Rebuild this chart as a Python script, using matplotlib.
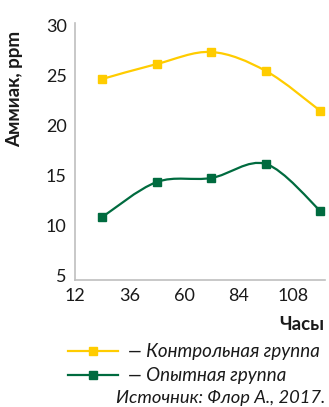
import matplotlib
matplotlib.use("Agg")
import matplotlib.pyplot as plt
from matplotlib.path import Path
from matplotlib.patches import PathPatch
from matplotlib.lines import Line2D

hours = [24, 48, 72, 96, 120]
control = [24.6, 26.1, 27.3, 25.4, 21.4]
experimental = [10.8, 14.3, 14.7, 16.1, 11.4]
xticks = [12, 36, 60, 84, 108]
yticks = [5, 10, 15, 20, 25, 30]
series_names = ["— Контрольная группа", "— Опытная группа"]
colors = ["#FFCC00", "#006B3F"]

FONT = "Lato"
plt.rcParams['font.family'] = [FONT, 'DejaVu Sans']

W, H = 329, 407
fig = plt.figure(figsize=(W / 100, H / 100), dpi=100)

def fx(px):
    return px / W

def fy(py):
    return 1 - py / H

ax_l, ax_r, ax_t, ax_b = 75, 325, 23, 280
ax = fig.add_axes([fx(ax_l), fy(ax_b), fx(ax_r - ax_l), (ax_b - ax_t) / H])
ax.set_xlim(12, 122)
ax.set_ylim(4.5, 30.2)


def smooth_path(xs, ys):
    pts = list(zip(xs, ys))
    n = len(pts)
    verts = [pts[0]]
    codes = [Path.MOVETO]
    for i in range(n - 1):
        p0 = pts[i - 1] if i > 0 else pts[i]
        p1 = pts[i]
        p2 = pts[i + 1]
        p3 = pts[i + 2] if i + 2 < n else pts[i + 1]
        c1 = (p1[0] + (p2[0] - p0[0]) / 6, p1[1] + (p2[1] - p0[1]) / 6)
        c2 = (p2[0] - (p3[0] - p1[0]) / 6, p2[1] - (p3[1] - p1[1]) / 6)
        verts += [c1, c2, p2]
        codes += [Path.CURVE4] * 3
    return Path(verts, codes)

for vals, col in zip([control, experimental], colors):
    ax.add_patch(PathPatch(smooth_path(hours, vals), facecolor="none",
                           edgecolor=col, lw=1.6, zorder=2))
    ax.plot(hours, vals, ls="none", marker="s", ms=6, color=col,
            zorder=3, clip_on=False)

for s in ["top", "right"]:
    ax.spines[s].set_visible(False)
for s in ["left", "bottom"]:
    ax.spines[s].set_color("#BFBFBF")
    ax.spines[s].set_linewidth(1.2)

ax.set_xticks(xticks)
ax.set_yticks(yticks)
ax.tick_params(length=0, labelsize=13, colors="#1a1a1a", pad=6)

fig.text(fx(15), fy(89), "Аммиак, ppm", rotation=90, ha="center", va="center",
         fontsize=13.5, fontweight="bold", color="#1a1a1a")
fig.text(fx(324), fy(325), "Часы", ha="right", va="center",
         fontsize=13.5, fontweight="bold", color="#1a1a1a")

leg_y = [351, 375]
for yy, name, col in zip(leg_y, series_names, colors):
    fig.add_artist(Line2D([fx(68), fx(118)], [fy(yy), fy(yy)], color=col, lw=1.6,
                          transform=fig.transFigure))
    fig.add_artist(Line2D([fx(93)], [fy(yy)], color=col, marker="s", ms=6,
                          transform=fig.transFigure))
    fig.text(fx(128), fy(yy), name, ha="left", va="center", fontsize=13.5,
             style="italic", color="#1a1a1a")

fig.text(fx(325), fy(398), "Источник: Флор А., 2017.", ha="right", va="center",
         fontsize=13.2, style="italic", color="#1a1a1a")

fig.savefig("out.png", dpi=100)
